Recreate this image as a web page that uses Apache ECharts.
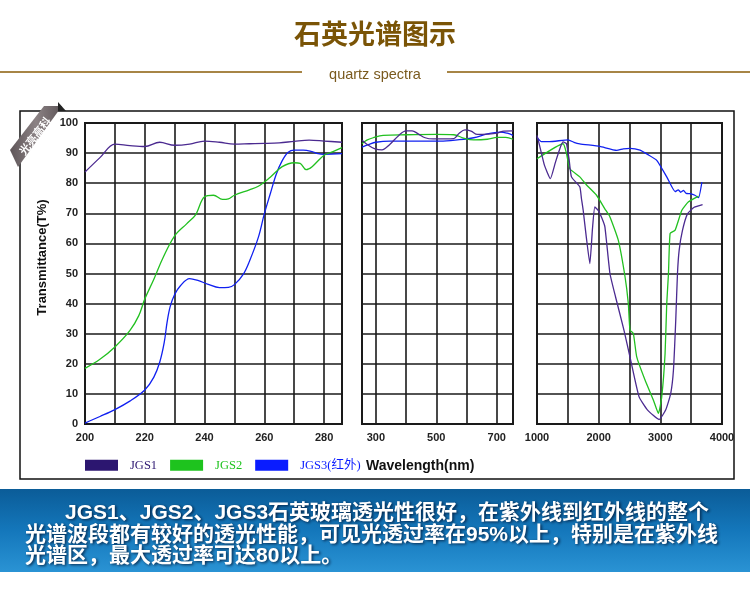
<!DOCTYPE html>
<html><head><meta charset="utf-8">
<script src="https://cdn.jsdelivr.net/npm/echarts@6/dist/echarts.min.js"></script>
<style>html,body{margin:0;padding:0;background:#fff}#c{width:750px;height:594px}</style>
</head><body><div id="c"></div>
<script>
// ---- data: [wavelength, transmittance %] ----
const seriesNames = ['JGS1', 'JGS2', 'JGS3(红外)'];
// panel 1 : 200 - 286 nm
const jgs1Uv = [[200,83.7],[205,88.5],[210,93],[215,92.5],[220,92.2],[225,93.6],[230,92.6],[235,93.0],[240,94.0],[245,93.6],[250,93.0],[255,93.1],[260,93.2],[265,93.4],[270,93.9],[275,94.3],[280,94.0],[286,93.6]];
const jgs2Uv = [[200,18.5],[205,21.5],[210,25.6],[215,31],[218,36],[220,41.5],[223,48],[226,55],[230,62.5],[234,66.5],[237,69.5],[240,75.5],[243,76],[246,74.6],[248,74.8],[250,76],[255,77.8],[258,79],[262,82],[266,85.5],[270,86.8],[272,86.6],[274,84.5],[276,85.5],[280,89.3],[283,90.5],[286,91.8]];
const jgs3Uv = [[200,0.3],[205,2.5],[210,4.8],[215,7.6],[220,11.3],[223,15.5],[225,20.5],[226.5,27],[227.5,34],[228.5,39],[230,43],[232,46],[235,48.3],[238,47.6],[241,46.5],[245,45.3],[248,45.4],[250,46.3],[253,49.8],[255,54],[258,62],[260,69.8],[262,76.5],[264,83],[266,87.5],[268,90.3],[270,91],[273,91],[276,90.5],[278,89.8],[280,89.6],[286,89.8]];
// panel 2 : 254 - 754 nm
const jgs1Vis = [[254,94.3],[275,92.6],[295,91.5],[320,91.1],[345,92.8],[375,95.8],[400,97.4],[420,97.4],[440,96.4],[463,95.1],[490,94.7],[530,94.7],[558,94.8],[575,96.5],[595,97.7],[615,97.3],[636,96.2],[670,96.3],[700,96.6],[724,97.3],[754,97.4]];
const jgs2Vis = [[254,93.1],[270,94.3],[291,95.1],[324,95.9],[402,96.1],[500,96.2],[558,96.1],[590,95.0],[624,94.4],[669,94.6],[702,95.2],[730,95.2],[754,94.6]];
const jgs3Vis = [[254,92],[275,92.8],[300,93.6],[347,94],[450,94],[513,94],[570,94.4],[624,95.1],[669,96.4],[713,97],[735,96.6],[754,95.9]];
// panel 3 : 1000 - 4000 nm
const jgs1Ir = [[1000,95.9],[1060,91],[1120,86],[1217,81.5],[1300,87],[1380,92],[1423,93.7],[1477,93.2],[1520,88],[1559,82.1],[1694,78.8],[1720,75],[1749,71],[1800,62],[1857,53.3],[1900,65],[1938,72.1],[1993,71],[2050,68.5],[2101,65.5],[2183,50],[2274,42.2],[2410,31.2],[2519,21.2],[2654,9.1],[2790,4.7],[2980,1.5],[3088,4.7],[3169,10.2],[3213,18],[3250,34.5],[3278,50],[3305,57.7],[3359,64.3],[3440,69.8],[3549,72],[3685,72.9]];
const jgs2Ir = [[1000,88.1],[1423,93.1],[1477,90],[1532,84.8],[1694,82.1],[1800,79.5],[1966,76],[2100,71.5],[2183,68.8],[2318,61.1],[2427,49],[2481,40],[2508,31.2],[2562,30.1],[2617,22.3],[2752,14.6],[2888,7.9],[2969,3.5],[3023,9.1],[3077,23.4],[3104,40],[3132,50],[3159,63.3],[3240,64.4],[3349,71],[3457,73.8],[3620,75.7]];
const jgs3Ir = [[1000,95.2],[1070,93.8],[1200,93.8],[1505,94.4],[1600,93.6],[1694,93.1],[2020,92.2],[2291,90.9],[2400,91.4],[2508,91.6],[2671,91.0],[2800,89.5],[2942,87.6],[3104,82.1],[3240,77.2],[3290,77.8],[3330,77.0],[3376,77.6],[3420,76.6],[3484,76.5],[3560,76.0],[3620,75.2],[3674,80.4]];
// axis ranges / ticks
const xRanges = [[200,286],[254,754],[1000,4000]];
const xLabelValues = [[200,220,240,260,280],[300,500,700],[1000,2000,3000,4000]];
const yTicks = [0,10,20,30,40,50,60,70,80,90,100];
const bannerLines = ['JGS1、JGS2、JGS3石英玻璃透光性很好，在紫外线到红外线的整个','光谱波段都有较好的透光性能，可见光透过率在95%以上，特别是在紫外线','光谱区，最大透过率可达80以上。'];

const colors = ['#4b2a90', '#22c020', '#1020f0'];
const legendColors = ['#2c1670', '#1ec31e', '#0a1cff'];
const panelData = [[jgs1Uv, jgs2Uv, jgs3Uv],[jgs1Vis, jgs2Vis, jgs3Vis],[jgs1Ir, jgs2Ir, jgs3Ir]];
const grids = [
  {left:85, top:123, width:257, height:301},
  {left:362, top:123, width:151, height:301},
  {left:537, top:123, width:185, height:301}
];
const xIntervals = [10, null, 500];
const lineCol = '#1a1a1a';

const chart = echarts.init(document.getElementById('c'), null, {renderer:'canvas'});
const xAxes = xRanges.map((r, i) => {
  const ax = {
    type:'value', gridIndex:i, min:r[0], max:r[1],
    axisLine:{show:true, lineStyle:{color:lineCol, width:2}},
    axisTick:{show:false},
    splitLine:{show:true, lineStyle:{color:lineCol, width:1.6}},
    axisLabel:{
      color:'#222', fontWeight:'bold', fontSize:11, fontFamily:'Liberation Sans, Arial', margin:8,
      showMinLabel: i !== 1, showMaxLabel: i !== 0,
      formatter: v => xLabelValues[i].indexOf(Math.round(v)) >= 0 ? String(Math.round(v)) : ''
    }
  };
  if (xIntervals[i]) ax.interval = xIntervals[i]; else ax.splitNumber = 5;
  return ax;
});
const yAxes = grids.map((g, i) => ({
  type:'value', gridIndex:i, min:yTicks[0], max:yTicks[yTicks.length-1], interval:yTicks[1]-yTicks[0],
  name: i === 0 ? 'Transmittance(T%)' : '', nameLocation:'middle', nameGap:36, nameRotate:90,
  nameTextStyle:{color:'#111', fontWeight:'bold', fontSize:13, fontFamily:'Liberation Sans, Arial', padding:[0,0,0,32]},
  axisLine:{show:true, lineStyle:{color:lineCol, width:2}},
  axisTick:{show:false},
  splitLine:{show:true, lineStyle:{color:lineCol, width:1.6}},
  axisLabel:{show: i === 0, color:'#222', fontWeight:'bold', fontSize:11, fontFamily:'Liberation Sans, Arial', margin:7}
}));
const series = [];
panelData.forEach((set, p) => {
  set.forEach((d, k) => {
    series.push({
      type:'line', name:seriesNames[k], xAxisIndex:p, yAxisIndex:p, data:d,
      showSymbol:false, symbol:'none', smooth: p === 2 ? 0.15 : 0.35,
      lineStyle:{color:colors[k], width:1.3}, itemStyle:{color:legendColors[k]},
      z: 3 + (2-k)
    });
  });
});

const gradient = new echarts.graphic.LinearGradient(0,0,0,1,[{offset:0,color:'#0b5c98'},{offset:0.5,color:'#1477bb'},{offset:1,color:'#2a93d4'}]);
const ribbonGrad = new echarts.graphic.LinearGradient(0,0,1,0,[{offset:0,color:'#5e5558'},{offset:0.5,color:'#8b8284'},{offset:1,color:'#5e5558'}]);
const bannerFont = 'bold 21px "Liberation Sans", "Noto Sans CJK SC"';
const bannerShadow = {fill:'#fff', font:bannerFont, verticalAlign:'middle', textShadowColor:'rgba(0,20,50,0.85)', textShadowBlur:3, textShadowOffsetX:1.5, textShadowOffsetY:1.5};

const option = {
  animation:false,
  backgroundColor:'#fff',
  title:[
    {text:'石英光谱图示', left:'center', top:15, textStyle:{color:'#7a5406', fontSize:27, fontWeight:'bold', fontFamily:'Noto Sans CJK SC'}},
    {text:'quartz spectra', left:'center', top:62, textStyle:{color:'#7a5a1e', fontSize:14.5, fontWeight:'normal', fontFamily:'Liberation Sans, Arial'}}
  ],
  legend:{
    left:85, top:459, padding:0, itemWidth:33, itemHeight:11, itemGap:13, icon:'rect',
    textStyle:{fontFamily:'Liberation Serif, Noto Sans CJK SC', fontSize:12.5, padding:[0,0,0,7]},
    data: seriesNames.map((n,k) => ({name:n, itemStyle:{color:legendColors[k]}, textStyle:{color:legendColors[k]}}))
  },
  grid: grids.map(g => Object.assign({show:true, borderColor:lineCol, borderWidth:2, backgroundColor:'transparent'}, g)),
  xAxis: xAxes,
  yAxis: yAxes,
  series: series,
  graphic:[
    {type:'line', shape:{x1:0,y1:72,x2:302,y2:72}, style:{stroke:'#8a5c08', lineWidth:1.5}},
    {type:'line', shape:{x1:447,y1:72,x2:750,y2:72}, style:{stroke:'#8a5c08', lineWidth:1.5}},
    {type:'rect', shape:{x:20,y:111,width:714,height:368}, style:{fill:'none', stroke:'#111', lineWidth:1.5}, z:1},
    {type:'polygon', shape:{points:[[10,150],[44,106],[62,106],[18,167]]}, style:{fill:ribbonGrad}, z:10},
    {type:'polygon', shape:{points:[[58,102],[66,111],[58,111]]}, style:{fill:'#222'}, z:10},
    {type:'text', x:35, y:136, rotation:Math.PI*0.29, style:{text:'光亮高科', fill:'#fff', font:'bold 11px "Noto Sans CJK SC"', align:'center', verticalAlign:'middle'}, z:11},
    {type:'text', x:366, y:466, style:{text:'Wavelength(nm)', fill:'#111', font:'bold 14px "Liberation Sans", Arial', verticalAlign:'middle'}},
    {type:'rect', shape:{x:0,y:489,width:750,height:83}, style:{fill:gradient}, z:0},
    {type:'text', x:65, y:513, style:Object.assign({text:bannerLines[0]}, bannerShadow)},
    {type:'text', x:25, y:535, style:Object.assign({text:bannerLines[1]}, bannerShadow)},
    {type:'text', x:25, y:556, style:Object.assign({text:bannerLines[2]}, bannerShadow)}
  ]
};
chart.setOption(option);
</script></body></html>
